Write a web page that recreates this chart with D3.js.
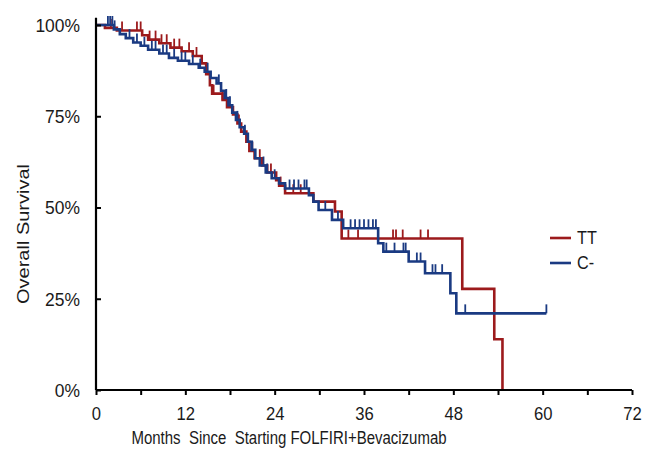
<!DOCTYPE html>
<html>
<head>
<meta charset="utf-8">
<script src="https://cdn.jsdelivr.net/npm/d3@7"></script>
<style>
  body { margin: 0; background: #fff; }
  text { font-family: "Liberation Sans", Arial, sans-serif; fill: #1a1a1a; }
</style>
</head>
<body>
<script>
// Kaplan-Meier steps: [month, survival % after the drop]
const ttSteps = [[0,100],[1.2,99.2],[2.8,98.5],[6.2,97.2],[7.0,96.0],[8.5,95.0],[10.0,93.8],[11.5,92.8],
  [13.0,91.5],[14.2,89.5],[14.8,86.5],[15.3,83.5],[15.6,81.2],[17.0,79.5],[17.6,77.5],[18.4,75.5],
  [19.0,73.0],[19.5,70.8],[20.2,68.0],[20.6,65.5],[21.3,63.5],[22.3,61.5],[23.0,59.6],[24.2,57.5],
  [24.6,56.0],[25.4,53.9],[29.2,51.6],[32.1,48.9],[33.0,41.5],[49.2,27.7],[53.5,13.9],[54.6,0]];
const ttEnd = 54.6;
const ttCensor = [2.0,3.5,5.5,6.0,7.2,8.0,8.8,9.5,10.5,11.2,12.5,13.5,15.8,17.0,17.7,19.2,21.0,22.0,
  23.5,24.8,26.5,27.5,33.9,35.2,39.9,40.3,41.2,43.6,44.6];

const cSteps = [[0,100],[2.4,98.8],[3.2,97.5],[4.0,96.4],[5.0,95.2],[6.0,94.3],[7.0,93.2],[8.5,92.2],
  [9.8,91.0],[11.0,90.2],[12.5,89.3],[13.8,88.3],[14.6,87.2],[15.4,85.5],[16.2,84.0],[16.8,82.0],
  [17.3,80.0],[17.8,78.0],[18.3,76.0],[18.8,74.0],[19.3,72.0],[19.9,70.2],[20.4,68.0],[20.9,65.8],
  [21.4,63.5],[22.0,61.5],[22.8,59.6],[23.6,58.0],[24.6,56.6],[25.4,55.2],[28.6,53.4],[29.2,51.6],
  [29.9,49.3],[31.7,46.6],[33.2,44.3],[37.9,40.2],[38.6,37.9],[42.0,35.2],[44.2,32.0],[47.6,26.5],[48.4,21.0]];
const cEnd = 60.5;
const cCensor = [1.6,1.9,2.2,2.5,4.5,5.5,6.5,7.5,8.0,9.0,9.5,10.5,11.5,12.0,13.0,14.0,15.0,16.5,17.5,
  18.0,19.0,20.0,21.0,22.5,23.0,24.0,26.0,26.6,27.2,28.0,28.3,30.8,32.5,34.2,34.8,35.4,36.0,36.6,37.2,
  37.6,39.0,40.1,41.3,41.6,43.1,43.6,45.2,45.6,46.5,49.6,60.5];

const xTicks = [0,6,12,18,24,30,36,42,48,54,60,66,72];
const yTicks = [0,25,50,75,100];

const series = [
  { name: "TT", steps: ttSteps, end: ttEnd, censor: ttCensor, color: "#9c1a1c" },
  { name: "C-", steps: cSteps, end: cEnd, censor: cCensor, color: "#1a3a82" }
];

const W = 653, H = 461;
const svg = d3.select("body").append("svg").attr("width", W).attr("height", H);

const x = d3.scaleLinear().domain([0, 72]).range([96, 632]);
const y = d3.scaleLinear().domain([0, 100]).range([390, 25]);

// curves
function survAt(steps, t) {
  let s = steps[0][1];
  for (const d of steps) if (d[0] <= t) s = d[1];
  return s;
}
series.forEach(s => {
  let p = `M${x(0)},${y(s.steps[0][1])}`;
  s.steps.slice(1).forEach(d => { p += `H${x(d[0])}V${y(d[1])}`; });
  p += `H${x(s.end)}`;
  svg.append("path").attr("d", p).attr("fill", "none")
    .attr("stroke", s.color).attr("stroke-width", 2.6);
  svg.append("g").selectAll("line").data(s.censor).join("line")
    .attr("x1", d => x(d)).attr("x2", d => x(d))
    .attr("y1", d => y(survAt(s.steps, d)))
    .attr("y2", d => y(survAt(s.steps, d)) - 9)
    .attr("stroke", s.color).attr("stroke-width", 1.8);
});

// axes
const xAxis = svg.append("g").attr("transform", `translate(0,${y(0)})`)
  .call(d3.axisBottom(x).tickValues(xTicks).tickSize(5).tickFormat(d => d % 12 === 0 ? d : ""));
xAxis.select(".domain").attr("stroke-width", 2.2).attr("d", `M${x(0)},0H${x(72)}`);
xAxis.selectAll(".tick line").attr("stroke-width", 2);
xAxis.selectAll(".tick text").attr("y", 30).attr("dy", null)
  .attr("transform", "scale(0.9,1)").style("font-size", "18.5px").attr("fill", "#1a1a1a");

const yAxis = svg.append("g").attr("transform", `translate(${x(0)},0)`)
  .call(d3.axisLeft(y).tickValues(yTicks).tickSize(-5).tickFormat(d => d + "%"));
yAxis.select(".domain").attr("stroke-width", 2.2).attr("d", `M0,${y(0)}V${y(102)}`);
yAxis.selectAll(".tick line").attr("stroke-width", 2);
yAxis.selectAll(".tick text").attr("x", -16 / 0.97).attr("dy", "0.36em")
  .attr("transform", "scale(0.97,1)").style("font-size", "18px").attr("fill", "#1a1a1a");

// titles
svg.append("text").attr("transform", "translate(289,444) scale(0.81,1)")
  .attr("text-anchor", "middle").style("font-size", "18.5px").style("white-space", "pre")
  .text("Months  Since  Starting FOLFIRI+Bevacizumab");
svg.append("text").attr("transform", "translate(29,234) rotate(-90) scale(1,0.85)")
  .attr("text-anchor", "middle").style("font-size", "20px")
  .text("Overall Survival");

// legend
const legend = svg.append("g").attr("transform", "translate(550,238)");
series.forEach((s, i) => {
  legend.append("line").attr("x1", 0).attr("x2", 21)
    .attr("y1", i * 25).attr("y2", i * 25)
    .attr("stroke", s.color).attr("stroke-width", 2.6);
  legend.append("text").attr("transform", `translate(27,${i * 25 + 6}) scale(0.9,1)`)
    .style("font-size", "18px").text(s.name);
});
</script>
</body>
</html>
